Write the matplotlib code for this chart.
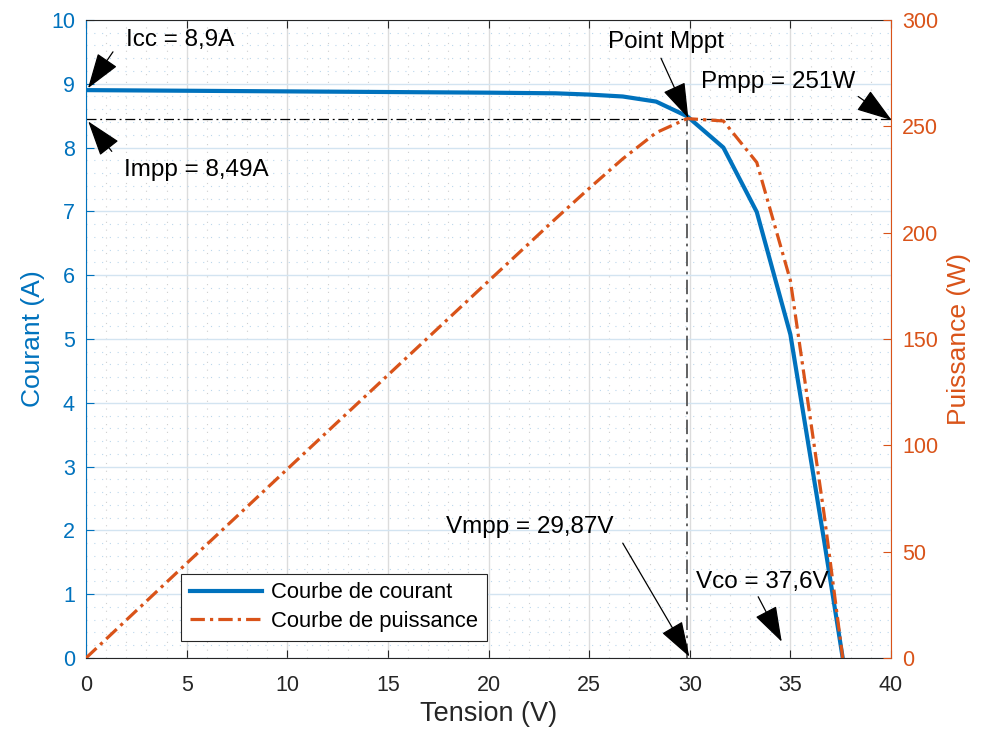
import numpy as np
import matplotlib
matplotlib.use('Agg')
import matplotlib.pyplot as plt
from matplotlib.ticker import MultipleLocator

plt.rcParams['font.family'] = ['Liberation Sans', 'DejaVu Sans']

blue = '#0072BD'
orange = '#D95319'
dark = '#262626'

# courbe I(V) et P(V) du panneau
tension = [0, 5, 10, 15, 20, 23.33, 25, 26.67, 28.33, 29.87, 31.67, 33.33, 35.0, 36.67, 37.6]
courant = [8.90, 8.89, 8.88, 8.87, 8.86, 8.85, 8.83, 8.80, 8.72, 8.49, 8.00, 6.99, 5.07, 1.85, 0.0]
puissance = [0, 44.5, 88.8, 133, 177.2, 206.5, 220.8, 234.7, 247, 253.6, 252.5, 233, 177.5, 68, 0]

impp = 8.45
vmpp = 29.87

# (texte, position texte, queue fleche, pointe fleche)
annotations = [
    ('Icc = 8,9A', (4.67, 9.69), (1.34, 9.50), (0.10, 8.93)),
    ('Impp = 8,49A', (5.47, 7.65), (1.28, 7.94), (0.11, 8.41)),
    ('Point Mppt', (28.8, 9.66), (28.57, 9.40), (29.93, 8.46)),
    ('Pmpp = 251W', (34.4, 9.03), (38.37, 8.80), (40.03, 8.43)),
    ('Vmpp = 29,87V', (22.06, 2.05), (26.67, 1.80), (29.98, 0.02)),
    ('Vco = 37,6V', (33.6, 1.19), (33.4, 0.96), (34.57, 0.255)),
]

fig = plt.figure(figsize=(9.92, 7.38), dpi=100)
ax = fig.add_axes([0.0867, 0.1084, 0.8115, 0.8646])
ax2 = ax.twinx()

l1, = ax.plot(tension, courant, color=blue, lw=3, label='Courbe de courant', zorder=3)
l2, = ax2.plot(tension, puissance, color=orange, lw=2.3, dashes=(4.5, 1.6, 1, 1.6),
               label='Courbe de puissance', zorder=3)

ax.plot([0, 40], [impp, impp], color='black', lw=0.9, dashes=(8, 3, 1.5, 3))
ax.plot([vmpp, vmpp], [0, impp], color='#555555', lw=1.3, dashes=(8, 3, 1.5, 3))

ax.set_xlim(0, 40)
ax.set_ylim(0, 10)
ax2.set_ylim(0, 300)
ax.xaxis.set_major_locator(MultipleLocator(5))
ax.xaxis.set_minor_locator(MultipleLocator(1))
ax.yaxis.set_major_locator(MultipleLocator(1))
ax.yaxis.set_minor_locator(MultipleLocator(0.2))
ax2.yaxis.set_major_locator(MultipleLocator(50))

ax.grid(True, which='major', axis='x', color='#dcdcdc', lw=1)
ax.grid(True, which='major', axis='y', color='#d3e4f1', lw=1)
ax.grid(True, which='minor', axis='x', color='#cfcfcf', lw=0.8, linestyle=(0, (1, 6)))
ax.grid(True, which='minor', axis='y', color='#bcd7ec', lw=0.8, linestyle=(0, (1, 6)))
ax.set_axisbelow(True)

ax.tick_params(axis='x', which='major', direction='in', top=True, length=6,
               labelsize=15.5, colors=dark, pad=12)
ax.tick_params(axis='x', which='minor', length=0)
ax.tick_params(axis='y', which='major', direction='in', length=6,
               labelsize=15.5, colors=blue, pad=8)
ax.tick_params(axis='y', which='minor', length=0)
ax2.tick_params(axis='y', direction='in', length=6, labelsize=15.5, colors=orange, pad=8)

ax.spines['left'].set_color(blue)
ax.spines['right'].set_visible(False)
ax.spines['top'].set_color(dark)
ax.spines['bottom'].set_color(dark)
ax2.spines['right'].set_color(orange)
ax2.spines['left'].set_visible(False)
ax2.spines['top'].set_visible(False)
ax2.spines['bottom'].set_visible(False)

ax.set_xlabel('Tension (V)', fontsize=19.5, color=dark, labelpad=4)
ax.set_ylabel('Courant (A)', fontsize=19, color=blue, labelpad=4)
ax2.set_ylabel('Puissance (W)', fontsize=19, color=orange, labelpad=6)

for txt, pos, tail, head in annotations:
    ax2.annotate('', xy=head, xytext=tail,
                 xycoords=ax.transData, textcoords=ax.transData,
                 arrowprops=dict(arrowstyle='-|>,head_length=1.5,head_width=0.5',
                                 color='black', lw=0.9, shrinkA=0, shrinkB=0,
                                 mutation_scale=15), zorder=5)
    ax2.text(pos[0], pos[1], txt, transform=ax.transData, fontsize=17.5,
             ha='center', va='center', color='black', zorder=6)

leg = ax2.legend(handles=[l1, l2], loc='lower left', bbox_to_anchor=(0.118, 0.027),
                 fontsize=15.8, frameon=True, fancybox=False, edgecolor=dark,
                 framealpha=1, handlelength=3.3, borderpad=0.4, labelspacing=0.35,
                 handletextpad=0.4, borderaxespad=0)
leg.get_frame().set_linewidth(0.8)

fig.savefig('out.png', dpi=100)
